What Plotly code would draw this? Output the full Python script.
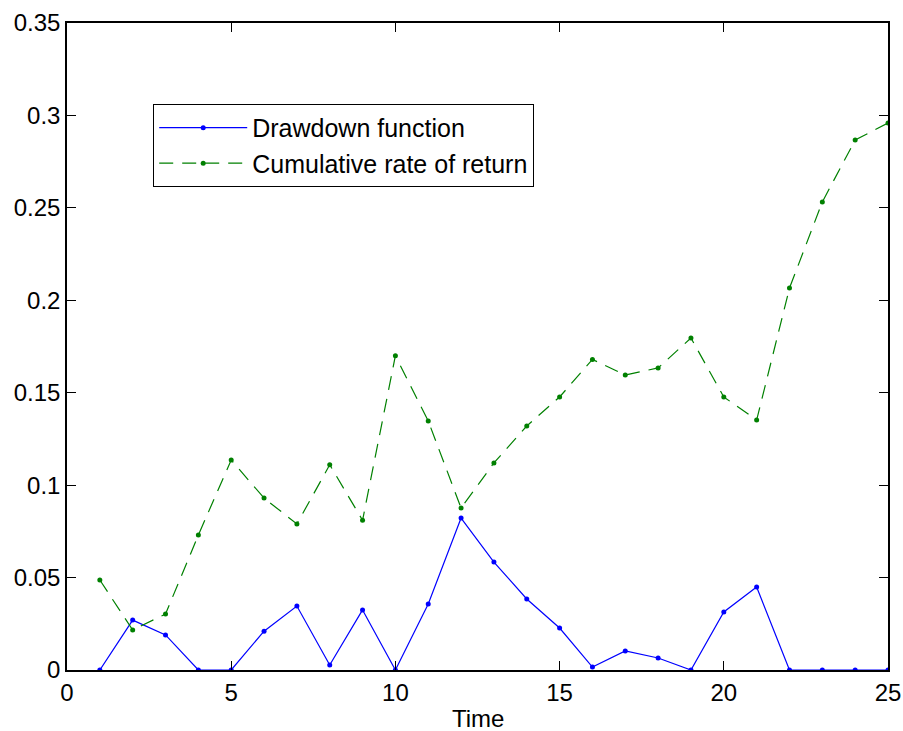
import plotly.graph_objects as go

time = list(range(1, 26))
drawdown = [0, 0.027, 0.019, 0, 0, 0.021, 0.0346, 0.0027, 0.0325, 0,
            0.0357, 0.0822, 0.0584, 0.0384, 0.0227, 0.0016, 0.0103, 0.0065, 0,
            0.0314, 0.0449, 0, 0, 0, 0]
cumret = [0.0487, 0.0216, 0.0303, 0.073, 0.1136, 0.093, 0.079, 0.111, 0.081, 0.170,
          0.1347, 0.0876, 0.112, 0.132, 0.1477, 0.168, 0.1596, 0.1634, 0.1796,
          0.1477, 0.1352, 0.2066, 0.2532, 0.2867, 0.2959]
xticks = [0, 5, 10, 15, 20, 25]
yticks = [0, 0.05, 0.1, 0.15, 0.2, 0.25, 0.3, 0.35]
ytick_text = ["0", "0.05", "0.1", "0.15", "0.2", "0.25", "0.3", "0.35"]
x_title = "Time"

FONT = "Liberation Sans, Arial, Helvetica"

fig = go.Figure()
fig.add_trace(go.Scatter(x=time, y=drawdown, mode="lines+markers", name="Drawdown function",
                         line=dict(color="#0000ff", width=1.2),
                         marker=dict(color="#0000ff", size=5)))
fig.add_trace(go.Scatter(x=time, y=cumret, mode="lines+markers", name="Cumulative rate of return",
                         line=dict(color="#008000", width=1.2, dash="14px,9px"),
                         marker=dict(color="#008000", size=5)))

axis_common = dict(showgrid=False, zeroline=False, showline=True, linecolor="black", linewidth=1.5,
                   mirror="ticks", ticks="inside", ticklen=9, tickcolor="black", tickwidth=1,
                   tickfont=dict(family=FONT, size=24, color="black"))
fig.update_xaxes(range=[0, 25], tickvals=xticks, ticktext=[str(v) for v in xticks], **axis_common)
fig.update_yaxes(range=[0, 0.35], tickvals=yticks, ticktext=ytick_text, **axis_common)

fig.add_annotation(text=x_title, xref="paper", yref="paper", x=0.5, y=-0.0755,
                   xanchor="center", yanchor="middle", showarrow=False, borderpad=0,
                   font=dict(family=FONT, size=24, color="black"))

fig.update_layout(
    width=903, height=731, plot_bgcolor="white", paper_bgcolor="white",
    margin=dict(l=67, r=15, t=23, b=61, autoexpand=False),
    font=dict(family=FONT, size=24, color="black"),
    legend=dict(x=0.105, y=0.875, xanchor="left", yanchor="top",
                bordercolor="black", borderwidth=1, bgcolor="white",
                font=dict(family=FONT, size=25, color="black"), tracegroupgap=0, itemwidth=88),
    showlegend=True,
)
fig.write_html("out.html", config={"displayModeBar": False},
               post_script="document.body.style.margin='0';document.body.style.overflow='hidden';")
